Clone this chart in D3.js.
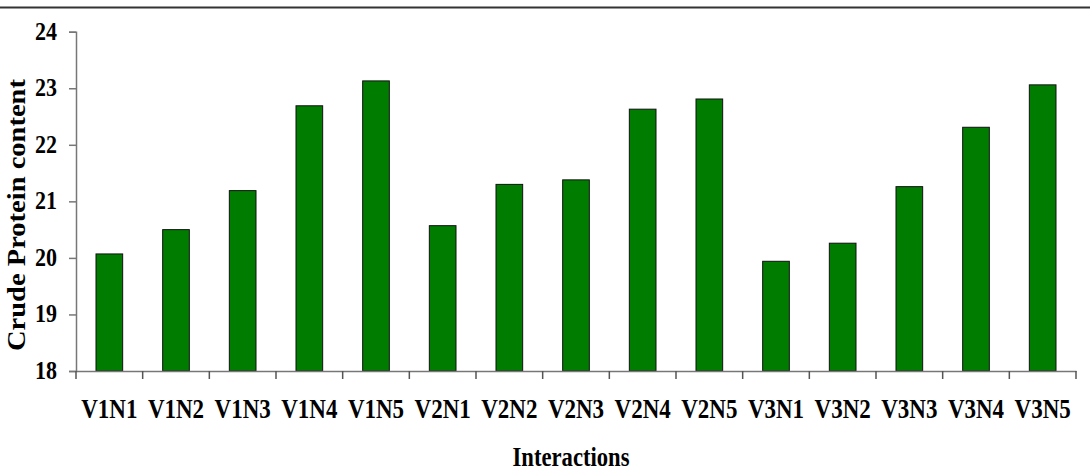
<!DOCTYPE html>
<html>
<head>
<meta charset="utf-8">
<script src="https://cdn.jsdelivr.net/npm/d3@7"></script>
<style>
  html, body { margin: 0; padding: 0; background: #fff; }
  svg { display: block; }
  text { font-family: "Liberation Serif", "Times New Roman", serif; font-weight: bold; fill: #000; }
</style>
</head>
<body>
<svg id="chart" width="1090" height="471"></svg>
<script>
const categories = ["V1N1","V1N2","V1N3","V1N4","V1N5","V2N1","V2N2","V2N3","V2N4","V2N5","V3N1","V3N2","V3N3","V3N4","V3N5"];
const values = [20.07, 20.50, 21.19, 22.69, 23.13, 20.57, 21.30, 21.38, 22.63, 22.81, 19.94, 20.26, 21.26, 22.31, 23.06];
const yTicks = [18, 19, 20, 21, 22, 23, 24];
const xTitle = "Interactions";
const yTitle = "Crude Protein content";

(function () {
const svg = d3.select("#chart");
const mLeft = 76, mRight = 1076, mTop = 31.7, mBottom = 371;

// top border line
svg.append("line").attr("x1", 0).attr("x2", 1090).attr("y1", 7.5).attr("y2", 7.5)
  .attr("stroke", "#333").attr("stroke-width", 2);

const x = d3.scaleBand().domain(categories).range([mLeft, mRight]).paddingInner(0.6).paddingOuter(0.3);
const y = d3.scaleLinear().domain([18, 24]).range([mBottom, mTop]);

// bars
svg.append("g").selectAll("rect").data(values).join("rect")
  .attr("x", (d, i) => x(categories[i]))
  .attr("y", d => y(d))
  .attr("width", x.bandwidth())
  .attr("height", d => y(18) - y(d))
  .attr("fill", "#007d00")
  .attr("stroke", "#111")
  .attr("stroke-width", 1);

// y axis
const yAxis = svg.append("g").attr("transform", `translate(${mLeft},0)`)
  .call(d3.axisLeft(y).tickValues(yTicks).tickSize(7).tickPadding(12).tickFormat(d3.format("d")));
yAxis.select(".domain").attr("stroke", "#777").attr("stroke-width", 1.5);
yAxis.selectAll(".tick line").attr("stroke", "#777").attr("stroke-width", 1.5);
yAxis.selectAll(".tick text")
  .attr("x", null).attr("dy", null)
  .attr("transform", "translate(-19,7.5) scale(1,1.1)")
  .style("font-size", "22px").attr("fill", "#000");

// x axis
const xAxis = svg.append("g").attr("transform", `translate(0,${mBottom})`)
  .call(d3.axisBottom(x).tickSize(0).tickPadding(30));
xAxis.select(".domain").attr("stroke", "#777").attr("stroke-width", 1.5);
xAxis.selectAll(".tick text")
  .attr("y", null).attr("dy", null)
  .attr("transform", `translate(0,${418 - mBottom}) scale(1,1.2)`)
  .style("font-size", "23px").attr("fill", "#000");

// x ticks at band edges
const edges = d3.range(categories.length + 1).map(i => mLeft + i * x.step());
svg.append("g").selectAll("line").data(edges).join("line")
  .attr("x1", d => d).attr("x2", d => d)
  .attr("y1", mBottom).attr("y2", mBottom + 8)
  .attr("stroke", "#555").attr("stroke-width", 1.5);

// titles
svg.append("text").attr("transform", `translate(${(mLeft + mRight) / 2 - 5},466) scale(1.03,1.22)`)
  .attr("text-anchor", "middle").style("font-size", "22px").text(xTitle);

svg.append("text").attr("transform", `translate(25,${(78 + 352) / 2}) rotate(-90)`)
  .attr("text-anchor", "middle").style("font-size", "25px")
  .attr("textLength", 272).attr("lengthAdjust", "spacingAndGlyphs").text(yTitle);
})();
</script>
</body>
</html>
